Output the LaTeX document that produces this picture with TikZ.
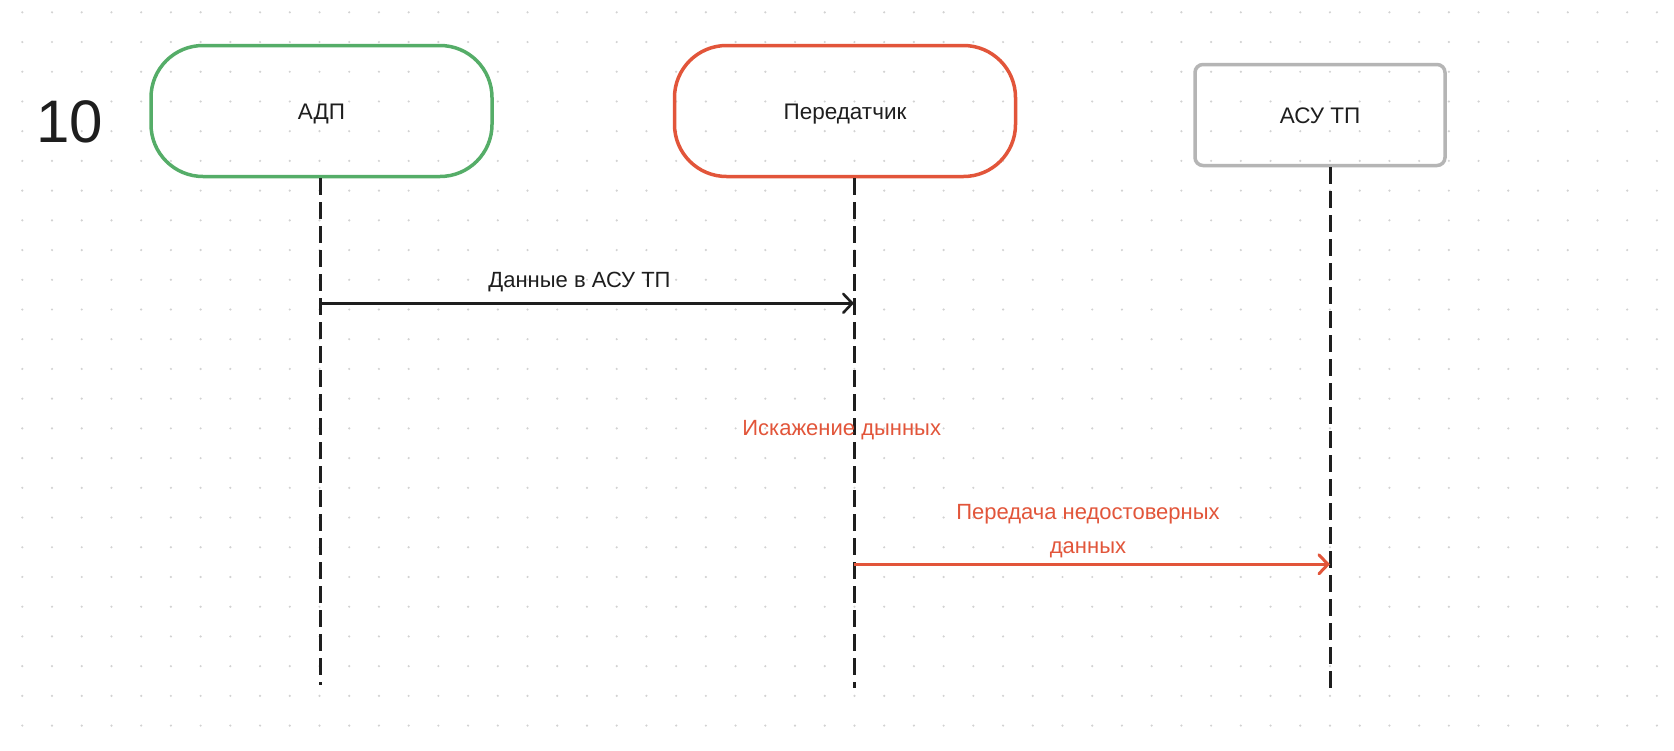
\documentclass[tikz,border=0pt]{standalone}
\usepackage{fontspec}
\setmainfont{Liberation Sans}
\usetikzlibrary{arrows.meta}
\definecolor{gridc}{HTML}{D2D2D2}
\definecolor{greenc}{HTML}{55AD68}
\definecolor{redc}{HTML}{E2553A}
\definecolor{greyc}{HTML}{B5B5B5}
\definecolor{inkc}{HTML}{1E1E1E}
\begin{document}
\begin{tikzpicture}[x=1pt,y=-1pt,
  boxbase/.style={draw, line width=3.5pt, text height=16pt, text depth=0pt,
    inner sep=0pt, font=\fontsize{22.5}{26}\selectfont, text=inkc},
  pill/.style={boxbase, rounded corners=52pt, minimum width=341pt, minimum height=131pt},
  sysbox/.style={boxbase, draw=greyc, rounded corners=8pt, minimum width=250pt, minimum height=101pt},
  lifeline/.style={draw=inkc, line width=3pt, dash pattern=on 16.5pt off 7.5pt},
  msg/.style={line width=2.6pt, -{Straight Barb[length=9pt,width=19pt,line cap=round]}},
  lbl/.style={anchor=base, inner sep=0pt, font=\fontsize{22}{34}\selectfont},
]
\fill[white] (0,0) rectangle (1674,750);
\useasboundingbox (0,0) rectangle (1674,750);
% dot grid
\foreach \i in {0,...,55}{
  \foreach \j in {0,...,24}{
    \fill[gridc] ({22.3+29.72*\i},{12.3+29.72*\j}) circle (1.2pt);
  }
}
% title number
\node[anchor=base, inner sep=0pt, font=\fontsize{60}{60}\selectfont, text=inkc] (num) at (69.5,142) {10};
% participants
\node[pill, draw=greenc] (adp) at (321.5,111) {АДП};
\node[pill, draw=redc] (tx) at (845,111) {Передатчик};
\node[sysbox] (asu) at (1320,115) {АСУ ТП};
% lifeline ends
\coordinate (adpTop) at (320,178);
\coordinate (adpBot) at (320,685);
\coordinate (txTop) at (854,178);
\coordinate (txBot) at (854,688);
\coordinate (asuTop) at (1330,167);
\coordinate (asuBot) at (1330,688);
\draw[lifeline] (adpTop) -- (adpBot);
\draw[lifeline] (txTop) -- (txBot);
\draw[lifeline] (asuTop) -- (asuBot);
% message 1
\coordinate (m1s) at (320,303.3);
\coordinate (m1e) at (854,303.3);
\draw[msg, draw=inkc] (m1s) -- (m1e);
\node[lbl, text=inkc] (l1) at (579.5,287.7) {Данные в АСУ ТП};
% distortion note
\node[lbl, text=redc] (l2) at (841.7,435) {Искажение дынных};
% message 2
\coordinate (m2s) at (854,564.3);
\coordinate (m2e) at (1330,564.3);
\draw[msg, draw=redc, line width=3pt] (m2s) -- (m2e);
\node[lbl, text=redc, align=center] (l3) at (1088,553.3) {Передача недостоверных\\данных};
\end{tikzpicture}
\end{document}
